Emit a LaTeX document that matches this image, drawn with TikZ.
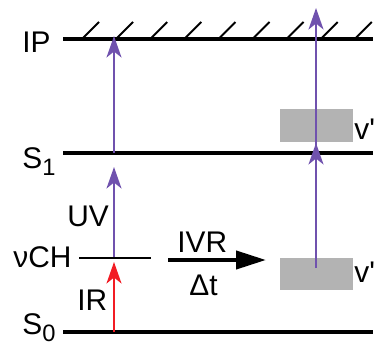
\documentclass[tikz,border=0pt]{standalone}
\usepackage{fontspec}
\setmainfont{Liberation Sans}
\usetikzlibrary{arrows.meta,positioning}
\definecolor{uvpurple}{HTML}{7052AE}
\definecolor{irred}{HTML}{F21C24}
\definecolor{vgray}{HTML}{B3B3B3}
\newcommand{\lvlsub}[2]{#1\raisebox{-0.45ex}{\fontsize{13.5}{14}\selectfont #2}}
\tikzset{
  level/.style={line width=2.3pt},
  sublevel/.style={line width=1.1pt},
  hatch/.style={line width=1.1pt},
  uv/.style={-{Stealth[length=4.3mm,width=3mm,inset=1.2mm]},draw=uvpurple,line width=1.1pt},
  ir/.style={uv,draw=irred},
  ivr/.style={-{Triangle[length=6mm,width=3.6mm]},line width=2.3pt},
  vbox/.style={fill=vgray,minimum width=14.6mm,minimum height=6.5mm,inner sep=0pt},
  lbl/.style={anchor=base west,inner sep=0pt}
}
\begin{document}
\begin{tikzpicture}[x=0.02cm,y=-0.02cm,font=\fontsize{17}{20}\selectfont]
  \useasboundingbox (0,0) rectangle (377,347);

  % energy levels
  \coordinate (ipL) at (63,39);  \coordinate (ipR) at (373,39);
  \coordinate (s1L) at (63,153); \coordinate (s1R) at (373,153);
  \coordinate (s0L) at (63,332); \coordinate (s0R) at (373,332);
  \coordinate (chL) at (79,258); \coordinate (chR) at (151,258);
  \draw[level] (ipL) -- (ipR);
  \draw[level] (s1L) -- (s1R);
  \draw[level] (s0L) -- (s0R);
  \draw[sublevel] (chL) -- (chR);
  \foreach \i in {0,...,8}
    \draw[hatch] ({82+34.1*\i},39) -- ++(17,-17);

  \node[lbl] (ip) at (22,53) {IP};
  \node[lbl] (s1) at (22,168) {\lvlsub{S}{1}};
  \node[lbl] (s0) at (22,334) {\lvlsub{S}{0}};
  \node[lbl] (ch) at (13,267) {νCH};
  \node[lbl] (uvlbl) at (67,226) {UV};
  \node[lbl] (irlbl) at (77,310) {IR};
  \node[lbl] (ivrlbl) at (177,252) {IVR};
  \node[lbl] (dtlbl) at (189,295) {Δt};

  % vibrational manifolds
  \node[vbox] (vup) at (316.5,125.5) {};
  \node[vbox] (vlow) at (316.5,274) {};
  \node[lbl] (vupl) at (354,140) {v\textquotesingle};
  \node[lbl] (vlowl) at (354,282) {v\textquotesingle};

  % transitions
  \coordinate (irfoot) at (114,332); \coordinate (irtip) at (114,262);
  \coordinate (uvfoot) at (114,257); \coordinate (uvtip) at (114,167);
  \coordinate (ionfoot) at (114,153); \coordinate (iontip) at (114,36);
  \coordinate (rfoot) at (316,268); \coordinate (rmid) at (316,143);
  \coordinate (rs1) at (316,153); \coordinate (rtip) at (316,8);
  \coordinate (ivrA) at (168,260); \coordinate (ivrB) at (266,260);
  \draw[ir] (irfoot) -- (irtip);
  \draw[uv] (uvfoot) -- (uvtip);
  \draw[uv] (ionfoot) -- (iontip);
  \draw[uv] (rfoot) -- (rmid);
  \draw[uv] (rs1) -- (rtip);
  \draw[ivr] (ivrA) -- (ivrB);
\end{tikzpicture}
\end{document}
